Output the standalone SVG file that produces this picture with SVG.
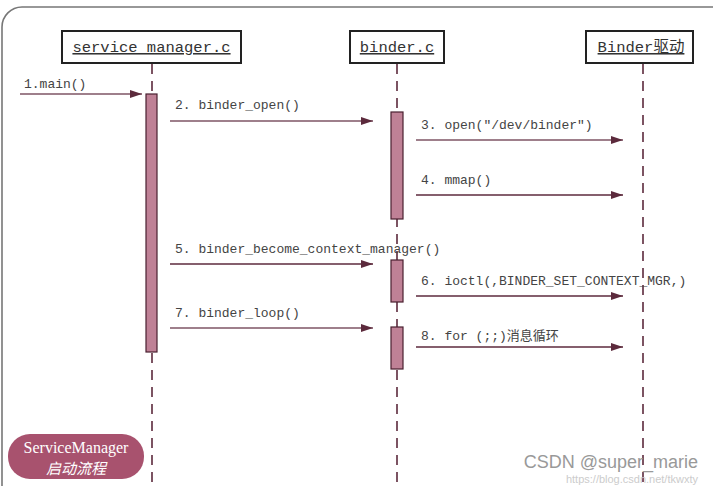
<svg xmlns="http://www.w3.org/2000/svg" width="713" height="486" viewBox="0 0 713 486">
<style>
.box{fill:#fff;stroke:#222;stroke-width:2}
.hd{font-family:"Liberation Mono","Noto Sans CJK SC",monospace;font-size:15.5px;fill:#333;text-decoration:underline}
.lbl{font-family:"Liberation Mono","Noto Sans CJK SC",monospace;font-size:13px;fill:#444}
.life{stroke:#5c2a3c;stroke-width:1.6;stroke-dasharray:10 7;fill:none}
.act{fill:#bf8196;stroke:#4a2030;stroke-width:1.2}
.msg{stroke:#7e5565;stroke-width:1.5;fill:none}
.msgd{stroke:#5c2a3c;stroke-width:1.5;fill:none}
</style>
<defs>
<marker id="ah" viewBox="0 0 12 8" refX="12" refY="4" markerWidth="12" markerHeight="8" markerUnits="userSpaceOnUse" orient="auto">
<path d="M0,0 L12,4 L0,8 Z" fill="#5c2a3c"/>
</marker>
</defs>
<rect x="0" y="0" width="713" height="486" fill="#fff"/>
<rect x="2" y="7" width="730" height="500" rx="20" ry="20" fill="none" stroke="#777" stroke-width="1.6"/>

<g id="lifelines">
<line class="life" x1="152" y1="64" x2="152" y2="486"/>
<line class="life" x1="397" y1="64" x2="397" y2="486"/>
<line class="life" x1="643" y1="64" x2="643" y2="482"/>
</g>

<g id="node-service-manager">
<rect class="box" x="62" y="31" width="179" height="32"/>
<text class="hd" x="151.5" y="52" text-anchor="middle">service manager.c</text>
</g>
<g id="node-binder-c">
<rect class="box" x="350" y="31" width="94" height="32"/>
<text class="hd" x="397" y="52" text-anchor="middle">binder.c</text>
</g>
<g id="node-binder-driver">
<rect class="box" x="586" y="31" width="107" height="32"/>
<text class="hd" x="641" y="52" text-anchor="middle">Binder驱动</text>
</g>

<g id="activations">
<rect class="act" x="146" y="94" width="11" height="258"/>
<rect class="act" x="391" y="112" width="12" height="107"/>
<rect class="act" x="391" y="260" width="12" height="42"/>
<rect class="act" x="391" y="327" width="12" height="42"/>
</g>

<g id="connectors">
<line class="msg" x1="20" y1="94" x2="142" y2="94" marker-end="url(#ah)"/>
<line class="msg" x1="170" y1="121" x2="373" y2="121" marker-end="url(#ah)"/>
<line class="msg" x1="416" y1="140" x2="623" y2="140" marker-end="url(#ah)"/>
<line class="msgd" x1="416" y1="195" x2="623" y2="195" marker-end="url(#ah)"/>
<line class="msgd" x1="170" y1="264" x2="373" y2="264" marker-end="url(#ah)"/>
<line class="msgd" x1="416" y1="296" x2="623" y2="296" marker-end="url(#ah)"/>
<line class="msg" x1="170" y1="328" x2="373" y2="328" marker-end="url(#ah)"/>
<line class="msgd" x1="416" y1="347" x2="623" y2="347" marker-end="url(#ah)"/>
</g>

<g id="labels">
<text class="lbl" x="24" y="88">1.main()</text>
<text class="lbl" x="175" y="109">2. binder_open()</text>
<text class="lbl" x="421" y="129">3. open(″/dev/binder″)</text>
<text class="lbl" x="421" y="184">4. mmap()</text>
<text class="lbl" x="175" y="253">5. binder_become_context_manager()</text>
<text class="lbl" x="421" y="285">6. ioctl(,BINDER_SET_CONTEXT_MGR,)</text>
<text class="lbl" x="175" y="317">7. binder_loop()</text>
<text class="lbl" x="421" y="340">8. for (;;)消息循环</text>
</g>

<g id="badge">
<rect x="8" y="434" width="136" height="45" rx="22" ry="22" fill="#a8526e"/>
<text x="76" y="453" text-anchor="middle" font-family="Liberation Serif, serif" font-size="16" fill="#fff">ServiceManager</text>
<text x="76" y="474" text-anchor="middle" font-family="Noto Sans CJK SC, sans-serif" font-size="15" font-style="italic" fill="#fff">启动流程</text>
</g>

<g id="watermark">
<text x="698" y="483" text-anchor="end" font-family="Liberation Sans, sans-serif" font-size="11" fill="#ccc">https://blog.csdn.net/tkwxty</text>
<text x="698" y="468" text-anchor="end" font-family="Liberation Sans, sans-serif" font-size="18" fill="#999">CSDN @super_marie</text>
</g>
</svg>
